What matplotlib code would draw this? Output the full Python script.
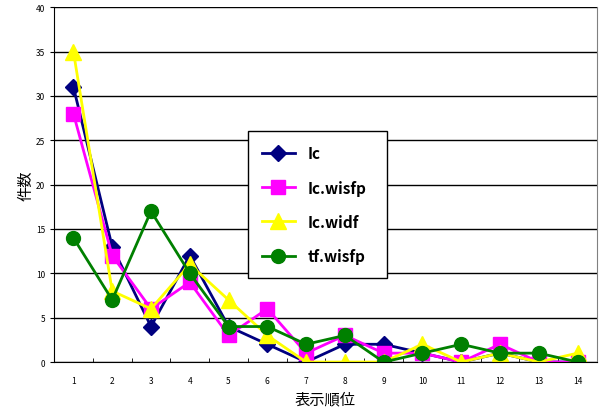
import matplotlib
matplotlib.use("Agg")
import matplotlib.pyplot as plt

plt.rcParams['font.family'] = ['Noto Sans CJK JP', 'DejaVu Sans']

# 表示順位ごとの件数
ranks = list(range(1, 15))
ic = [31, 13, 4, 12, 4, 2, 0, 2, 2, 1, 0, 1, 0, 0]
ic_wisfp = [28, 12, 6, 9, 3, 6, 1, 3, 1, 1, 0, 2, 0, 0]
ic_widf = [35, 8, 6, 11, 7, 3, 0, 0, 0, 2, 0, 1, 0, 1]
tf_wisfp = [14, 7, 17, 10, 4, 4, 2, 3, 0, 1, 2, 1, 1, 0]

fig = plt.figure(figsize=(6.03, 4.10), dpi=100)
ax = fig.add_axes([0.0896, 0.1146, 0.9004, 0.8654])

ax.plot(ranks, ic, color='#000080', marker='D', markersize=8, lw=2, label='Ic')
ax.plot(ranks, ic_wisfp, color='#FF00FF', marker='s', markersize=10, lw=2, label='Ic.wisfp')
ax.plot(ranks, ic_widf, color='#FFFF00', marker='^', markersize=11, lw=2, label='Ic.widf')
ax.plot(ranks, tf_wisfp, color='#008000', marker='o', markersize=10, lw=2, label='tf.wisfp')

ax.set_xlim(0.5, 14.5)
ax.set_ylim(0, 40)
ax.set_yticks(range(0, 41, 5))
ax.set_xticks(ranks)
ax.set_xticks([r + 0.5 for r in range(0, 14)], minor=True)
ax.tick_params(axis='x', which='major', length=0, labelsize=6, pad=10)
ax.tick_params(axis='x', which='minor', length=3, direction='in')
ax.tick_params(axis='y', labelsize=6, length=3, direction='out')
ax.yaxis.grid(True, color='black', lw=1)
ax.set_axisbelow(True)

ax.spines['top'].set_visible(False)
ax.spines['right'].set_color('#808080')

ax.set_xlabel('表示順位', fontsize=11)
ax.set_ylabel('件数', fontsize=11, labelpad=1)

leg = ax.legend(loc='lower left', bbox_to_anchor=(0.357, 0.237, 0.256, 0.417),
                mode='expand', borderaxespad=0,
                prop={'weight': 'bold', 'size': 11},
                fancybox=False, framealpha=1, edgecolor='black',
                handlelength=2.2, labelspacing=1.2, borderpad=0.9)
leg.get_frame().set_linewidth(1)

fig.savefig('out.png', dpi=100)
